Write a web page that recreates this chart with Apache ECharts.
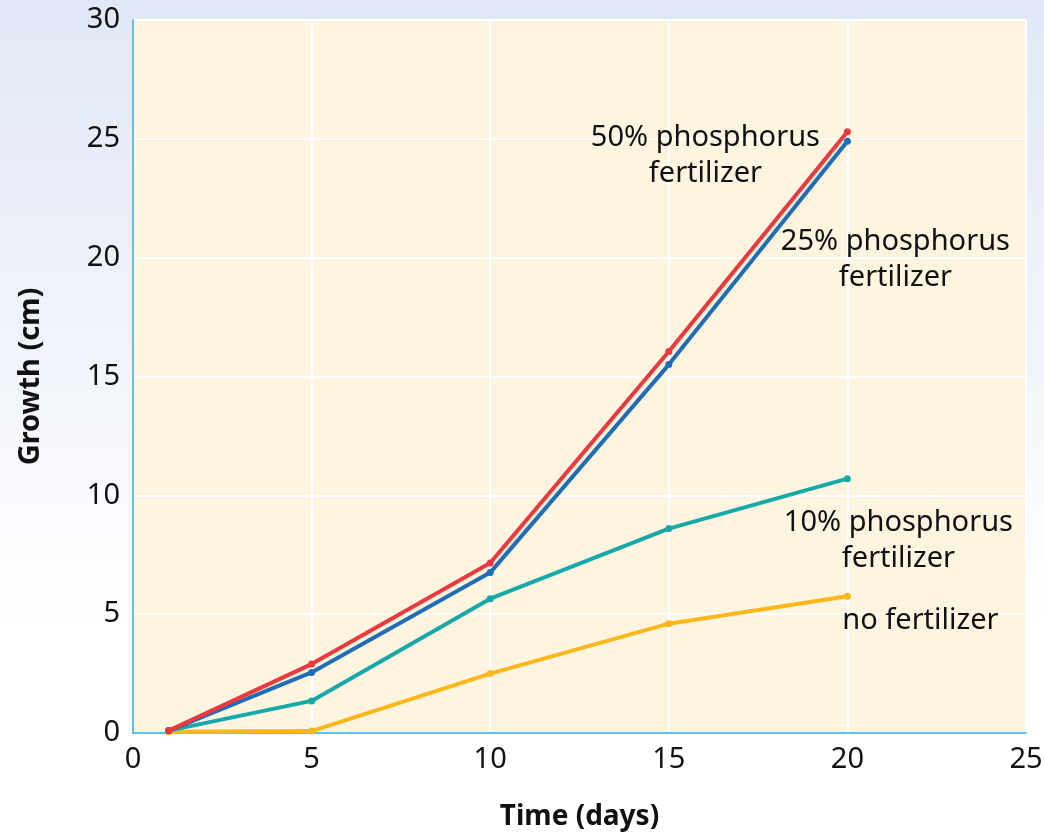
<!DOCTYPE html>
<html>
<head>
<meta charset="utf-8">
<script src="https://cdn.jsdelivr.net/npm/echarts@6/dist/echarts.min.js"></script>
<style>
  html, body { margin: 0; padding: 0; }
  #chart { width: 1044px; height: 833px; }
</style>
</head>
<body>
<div id="chart"></div>
<script>
// days measured
const days = [1, 5, 10, 15, 20]

// growth in cm for each treatment
const growth50 = [0.1, 2.9, 7.15, 16.05, 25.3]
const growth25 = [0.1, 2.55, 6.75, 15.5, 24.9]
const growth10 = [0.1, 1.35, 5.65, 8.6, 10.7]
const growthNone = [0.05, 0.08, 2.5, 4.6, 5.75]

const xTicks = [0, 5, 10, 15, 20, 25]
const yTicks = [0, 5, 10, 15, 20, 25, 30]

const fontFamily = '"Noto Sans", "Open Sans", sans-serif'

function pairs(values) {
  return days.map((d, i) => [d, values[i]])
}

// put a label next to the last point of a line
function endLabel(values, text, offset) {
  const data = pairs(values)
  const last = data.length - 1
  data[last] = {
    value: data[last],
    label: {
      show: true,
      position: 'inside',
      formatter: text,
      fontFamily,
      fontSize: 29,
      color: '#111',
      lineHeight: 36,
      align: 'center',
      verticalAlign: 'middle',
      offset,
    },
  }
  return data
}

function lineSeries(name, color, data) {
  return {
    name,
    type: 'line',
    data,
    symbol: 'circle',
    symbolSize: 7,
    lineStyle: { color, width: 4 },
    itemStyle: { color },
    z: 3,
  }
}

const chart = echarts.init(document.getElementById('chart'))

chart.setOption({
  animation: false,
  backgroundColor: {
    type: 'linear',
    x: 0, y: 0, x2: 0, y2: 1,
    colorStops: [
      { offset: 0, color: '#e0e7f6' },
      { offset: 0.75, color: '#ffffff' },
      { offset: 1, color: '#ffffff' },
    ],
  },
  grid: {
    left: 133,
    right: 18,
    top: 20,
    bottom: 100,
    outerBoundsMode: 'none',
    show: true,
    backgroundColor: '#fdf5df',
    borderWidth: 0,
  },
  xAxis: {
    type: 'value',
    min: xTicks[0],
    max: xTicks[xTicks.length - 1],
    interval: 5,
    name: 'Time (days)',
    nameLocation: 'middle',
    nameGap: 70,
    nameTextStyle: { fontFamily, fontSize: 28, fontWeight: 'bold', color: '#111' },
    axisLine: { show: true, lineStyle: { color: '#5cc2ec', width: 2 } },
    axisTick: { show: false },
    axisLabel: { fontFamily, fontSize: 29, color: '#111', margin: 12 },
    splitLine: { show: true, lineStyle: { color: '#ffffff', width: 2 } },
  },
  yAxis: {
    type: 'value',
    min: yTicks[0],
    max: yTicks[yTicks.length - 1],
    interval: 5,
    name: 'Growth (cm)',
    nameLocation: 'middle',
    nameGap: 88,
    nameTextStyle: { fontFamily, fontSize: 29, fontWeight: 'bold', color: '#111' },
    axisLine: { show: true, lineStyle: { color: '#5cc2ec', width: 2 } },
    axisTick: { show: false },
    axisLabel: { fontFamily, fontSize: 29, color: '#111', margin: 13 },
    splitLine: { show: true, lineStyle: { color: '#ffffff', width: 2 } },
  },
  series: [
    lineSeries('no fertilizer', '#fdb71a',
      endLabel(growthNone, 'no fertilizer', [73, 24])),
    lineSeries('10% phosphorus fertilizer', '#17a9a9',
      endLabel(growth10, '10% phosphorus\nfertilizer', [51, 62])),
    lineSeries('25% phosphorus fertilizer', '#1f6db6',
      endLabel(growth25, '25% phosphorus\nfertilizer', [48, 119])),
    lineSeries('50% phosphorus fertilizer', '#ea3a40',
      endLabel(growth50, '50% phosphorus\nfertilizer', [-142, 24])),
  ],
})
</script>
</body>
</html>
